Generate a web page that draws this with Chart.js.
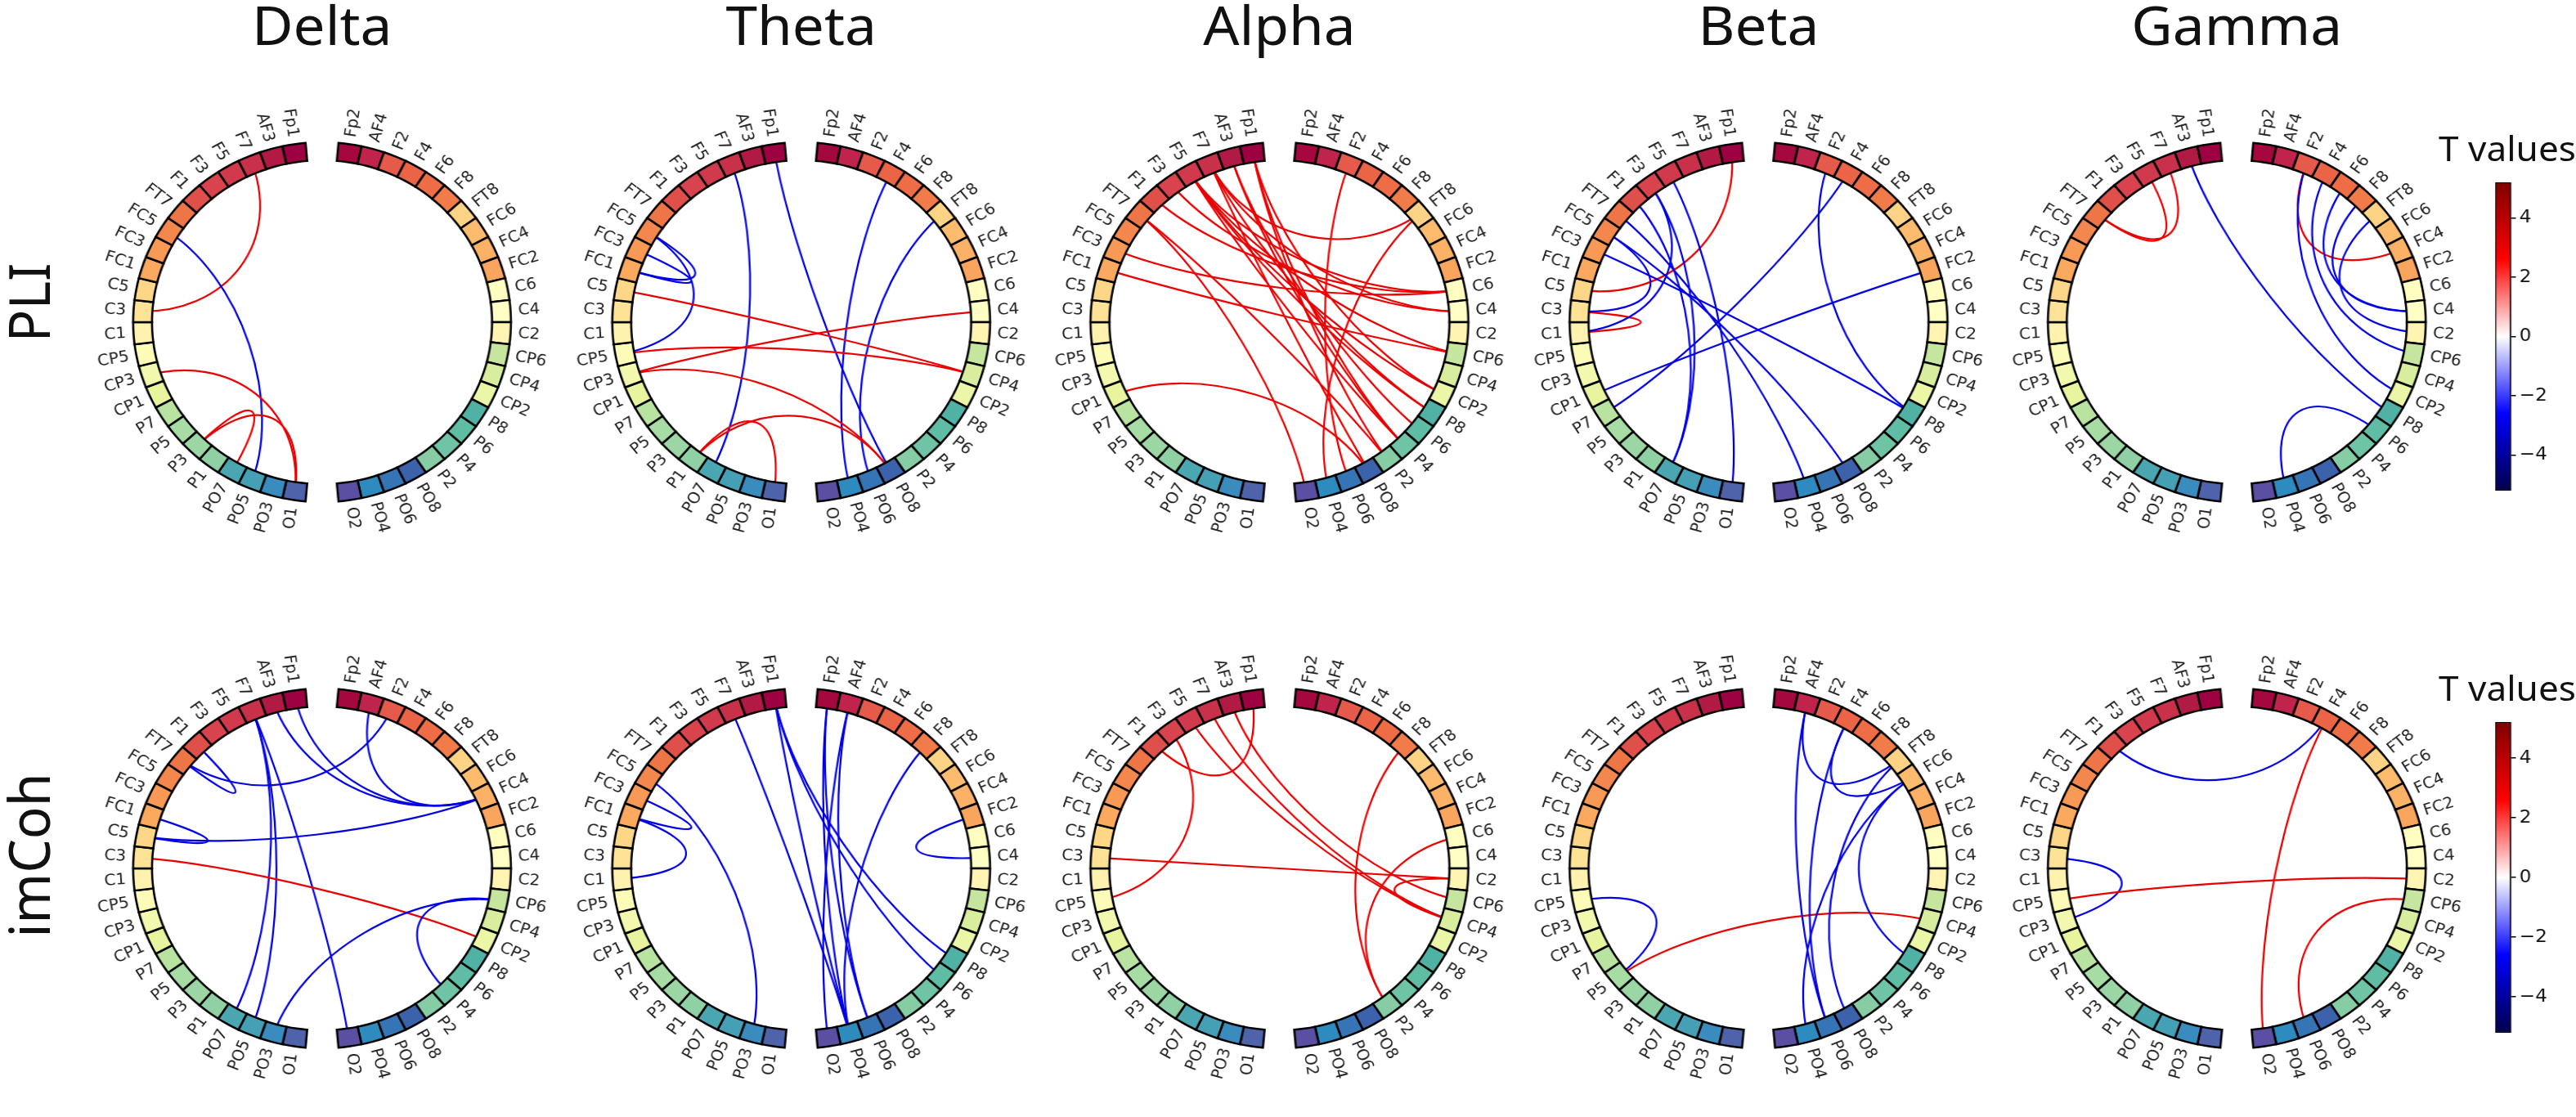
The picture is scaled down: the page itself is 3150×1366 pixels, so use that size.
<!DOCTYPE html>
<html>
<head>
<meta charset="utf-8">
<script src="https://cdn.jsdelivr.net/npm/chart.js@4.4.1/dist/chart.umd.min.js"></script>
<style>
html, body { margin: 0; padding: 0; background: #fff; }
body { width: 3150px; height: 1366px; overflow: hidden; position: relative; }
#stage { position: absolute; left: 0; top: 0; width: 3000px; height: 1366px; transform: scaleX(1.05); transform-origin: 0 0; }
.title { position: absolute; width: 300px; text-align: center; font-family: 'Noto Sans', sans-serif; font-size: 66px; line-height: 66px; color: #111; }
.rowlab { position: absolute; width: 300px; height: 70px; line-height: 70px; text-align: center; font-family: 'Noto Sans', sans-serif; font-size: 66px; color: #111; transform: rotate(-90deg); }
.cbt { position: absolute; width: 200px; text-align: center; font-family: 'Noto Sans', sans-serif; font-size: 42px; line-height: 42px; color: #111; }
canvas { position: absolute; }
</style>
</head>
<body>
<div id="stage"></div>
<script>
// ---- data ----
const bands = ['Delta', 'Theta', 'Alpha', 'Beta', 'Gamma'];
const measures = ['PLI', 'imCoh'];

const leftNodes = ['Fp1', 'AF3', 'F7', 'F5', 'F3', 'F1', 'FT7', 'FC5', 'FC3', 'FC1', 'C5', 'C3',
  'C1', 'CP5', 'CP3', 'CP1', 'P7', 'P5', 'P3', 'P1', 'PO7', 'PO5', 'PO3', 'O1'];
const rightNodes = ['Fp2', 'AF4', 'F2', 'F4', 'F6', 'F8', 'FT8', 'FC6', 'FC4', 'FC2', 'C6', 'C4',
  'C2', 'CP6', 'CP4', 'CP2', 'P8', 'P6', 'P4', 'P2', 'PO8', 'PO6', 'PO4', 'O2'];

const cbMin = -5.2, cbMax = 5.2;
const cbTicks = [-4, -2, 0, 2, 4];

// connections: [node, node, T value]
const pliDelta = [['F7', 'C3', 3.1], ['FC5', 'PO5', -3.1], ['CP3', 'O1', 3.1], ['P3', 'O1', 3.2],
  ['P3', 'PO7', 3.0]];
const pliTheta = [['F7', 'PO7', -3.1], ['Fp1', 'PO8', -3.1], ['F4', 'PO4', -3.0], ['FT8', 'PO6', -3.0],
  ['FC5', 'FC1', -3.0], ['FC3', 'FC1', -3.0], ['FC5', 'CP5', -3.1], ['C5', 'CP4', 3.1], ['CP5', 'CP4', 3.0],
  ['CP3', 'C4', 3.1], ['CP3', 'PO8', 3.0], ['P1', 'PO8', 3.1], ['P1', 'O1', 3.0]];
const pliAlpha = [['Fp1', 'P4', 3.1], ['Fp1', 'P2', 3.0], ['Fp1', 'CP2', 3.1], ['AF3', 'P4', 3.2],
  ['AF3', 'P6', 3.0], ['F7', 'FT8', 3.0], ['F7', 'P8', 3.1], ['F7', 'PO8', 3.0], ['F5', 'C6', 3.1],
  ['F5', 'CP2', 3.2], ['F5', 'P8', 3.0], ['F5', 'CP6', 3.1], ['F5', 'P4', 3.0], ['F3', 'C4', 3.0],
  ['FT7', 'P2', 3.0], ['FT7', 'O2', 3.1], ['FC3', 'C6', 3.0], ['FC1', 'CP6', 3.0], ['CP1', 'PO8', 3.0],
  ['F2', 'PO6', 3.0], ['FT8', 'PO4', 3.1], ['F7', 'C4', 3.0], ['F1', 'C6', 3.0]];
const pliBeta = [['Fp1', 'C5', 3.1], ['C3', 'C1', 3.0], ['C1', 'F3', -3.0], ['F5', 'O1', -3.1],
  ['F3', 'PO7', -3.0], ['F1', 'PO7', -3.0], ['FT7', 'PO4', -3.1], ['FC5', 'PO8', -3.0], ['FC3', 'P8', -3.0],
  ['P7', 'F4', -3.1], ['CP1', 'FC2', -3.0], ['F2', 'P8', -3.0], ['C3', 'FC5', -3.0]];
const pliGamma = [['F7', 'FT7', 3.1], ['F5', 'FT7', 3.0], ['F2', 'FC4', 3.0], ['AF3', 'P8', -3.1],
  ['PO4', 'P6', -3.0], ['F8', 'C4', -3.1], ['FT8', 'C2', -3.0], ['F4', 'CP6', -3.0], ['F2', 'CP2', -3.0],
  ['F6', 'C4', -3.0]];

const imDelta = [['Fp1', 'FC4', -3.1], ['AF3', 'FC4', -3.0], ['AF4', 'FC4', -3.0], ['F2', 'FT7', -3.0],
  ['F7', 'PO7', -3.1], ['F7', 'PO5', -3.0], ['F7', 'O2', -3.0], ['F1', 'FT7', -3.0], ['FC1', 'C5', -3.0],
  ['C5', 'FC4', -3.1], ['C3', 'CP2', 3.1], ['CP6', 'PO3', -3.0], ['CP6', 'P4', -3.0]];
const imTheta = [['F7', 'PO4', -3.1], ['Fp1', 'PO4', -3.1], ['Fp1', 'P6', -3.0], ['Fp1', 'P8', -3.0],
  ['Fp2', 'PO4', -3.1], ['Fp2', 'PO6', -3.0], ['AF4', 'O2', -3.0], ['AF4', 'PO6', -3.0], ['F8', 'PO4', -3.0],
  ['FC5', 'PO3', -3.0], ['FC3', 'FC1', -3.0], ['FC1', 'C1', -3.0], ['FC2', 'C4', -3.0]];
const imAlpha = [['Fp1', 'F1', 3.0], ['F3', 'CP5', 3.0], ['C3', 'C2', 3.1], ['F5', 'CP4', 3.1],
  ['F7', 'CP4', 3.0], ['AF3', 'CP6', 3.0], ['C2', 'CP4', 3.0], ['F8', 'P2', 3.0], ['C6', 'P2', 3.0]];
const imBeta = [['CP5', 'P5', -3.0], ['P5', 'CP4', 3.1], ['AF4', 'FT8', -3.0], ['AF4', 'PO6', -3.0],
  ['F4', 'PO6', -3.1], ['F4', 'FC6', -3.0], ['FT8', 'PO8', -3.0], ['FC6', 'PO4', -3.0], ['FC6', 'P8', -3.0]];
const imGamma = [['F1', 'F4', -3.0], ['F4', 'O2', 3.1], ['C3', 'CP3', -3.0], ['CP5', 'C2', 3.1],
  ['CP6', 'PO6', 3.0]];

const panels = [[pliDelta, pliTheta, pliAlpha, pliBeta, pliGamma],
                [imDelta, imTheta, imAlpha, imBeta, imGamma]];

// ---- styles ----
const leftPalette = ['#9e0142', '#b11a44', '#c9304a', '#d03a4c', '#d8434e', '#e0504b', '#ee7545', '#f4874d',
  '#f89a55', '#fba95e', '#fdd687', '#fee397', '#fff2ae', '#fcfcb8', '#f2f9ae', '#e8f59e', '#b9e3a0', '#a7dca4',
  '#9cd6a4', '#8fd0a4', '#4aa7b1', '#45a0b5', '#3a8bbe', '#4f63aa'];
const rightPalette = ['#a5073f', '#c0234b', '#e55a4a', '#ec6446', '#ef6d46', '#f27b4a', '#fdd486', '#fdbc6d',
  '#fcb266', '#f9a55d', '#fffec0', '#ffffc5', '#fff4b2', '#c6e69f', '#d8ee9e', '#ebf6a6', '#50b2a4', '#5fbda5',
  '#6fc4a5', '#86cca5', '#3c62ac', '#3575b6', '#2d8bbf', '#5a4fa2'];
const seismicStops = [[0, [0, 0, 76]], [0.25, [0, 0, 255]], [0.5, [255, 255, 255]], [0.75, [255, 0, 0]], [1, [128, 0, 0]]];

const colX = [375, 933, 1490, 2048, 2605];
const rowY = [394, 1062];

function seismic(t) {
  const s = Math.max(0, Math.min(1, (t - cbMin) / (cbMax - cbMin)));
  for (let i = 1; i < seismicStops.length; i++) {
    const [p1, c1] = seismicStops[i];
    const [p0, c0] = seismicStops[i - 1];
    if (s <= p1) {
      const f = (s - p0) / (p1 - p0);
      return 'rgb(' + c0.map((v, k) => Math.round(v + (c1[k] - v) * f)).join(',') + ')';
    }
  }
  return 'rgb(128,0,0)';
}

// ring: right half clockwise from the top, gap, left half from the bottom up, gap
const ringNames = [...rightNodes, '', ...leftNodes.slice().reverse(), ''];
const ringValues = ringNames.map(n => n ? 340 / 48 : 10);
const ringColors = [...rightPalette, 'rgba(0,0,0,0)', ...leftPalette.slice().reverse(), 'rgba(0,0,0,0)'];

const stage = document.getElementById('stage');

function addDiv(cls, text, left, top) {
  const d = document.createElement('div');
  d.className = cls;
  d.textContent = text;
  d.style.left = left + 'px';
  d.style.top = top + 'px';
  stage.appendChild(d);
}

function addCanvas(left, top, w, h) {
  const c = document.createElement('canvas');
  c.width = w; c.height = h;
  c.style.left = left + 'px'; c.style.top = top + 'px';
  c.style.width = w + 'px'; c.style.height = h + 'px';
  stage.appendChild(c);
  return c;
}

function circlePlugin(conns) {
  return {
    id: 'circle',
    beforeDatasetsDraw(chart) {
      const arcs = chart.getDatasetMeta(0).data;
      const ctx = chart.ctx;
      ctx.save();
      ctx.lineWidth = 2.2;
      conns.forEach(([a, b, t]) => {
        const p = arcs[ringNames.indexOf(a)], q = arcs[ringNames.indexOf(b)];
        const ta = (p.startAngle + p.endAngle) / 2, tb = (q.startAngle + q.endAngle) / 2;
        const R = p.outerRadius, x = p.x, y = p.y;
        ctx.strokeStyle = seismic(t);
        ctx.beginPath();
        ctx.moveTo(x + R * Math.cos(ta), y + R * Math.sin(ta));
        ctx.bezierCurveTo(x + R / 2 * Math.cos(ta), y + R / 2 * Math.sin(ta),
          x + R / 2 * Math.cos(tb), y + R / 2 * Math.sin(tb),
          x + R * Math.cos(tb), y + R * Math.sin(tb));
        ctx.stroke();
      });
      ctx.restore();
    },
    afterDatasetsDraw(chart) {
      const arcs = chart.getDatasetMeta(0).data;
      const ctx = chart.ctx;
      ctx.save();
      ctx.font = '19px "DejaVu Sans"';
      ctx.fillStyle = '#222';
      ctx.textBaseline = 'middle';
      ringNames.forEach((name, i) => {
        if (!name) return;
        const arc = arcs[i];
        const a = (arc.startAngle + arc.endAngle) / 2;
        const r = arc.outerRadius * 1.04;
        ctx.save();
        ctx.translate(arc.x + r * Math.cos(a), arc.y + r * Math.sin(a));
        if (i < 24) {
          ctx.rotate(a);
          ctx.textAlign = 'left';
        } else {
          ctx.rotate(a + Math.PI);
          ctx.textAlign = 'right';
        }
        ctx.fillText(name, 0, 0);
        ctx.restore();
      });
      ctx.restore();
    }
  };
}

bands.forEach((b, c) => addDiv('title', b, colX[c] - 150, -4));
addDiv('rowlab', measures[0], 32 - 150, 370 - 35);
addDiv('rowlab', measures[1], 32 - 150, 1046 - 35);

panels.forEach((row, r) => {
  row.forEach((conns, c) => {
    const cv = addCanvas(colX[c] - 278, rowY[r] - 310, 556, 620);
    new Chart(cv, {
      type: 'doughnut',
      data: {
        labels: ringNames,
        datasets: [{
          data: ringValues,
          backgroundColor: ringColors,
          borderColor: ringNames.map(n => n ? '#000' : 'rgba(0,0,0,0)'),
          borderWidth: ringNames.map(n => n ? 2.5 : 0),
          borderJoinStyle: 'miter'
        }]
      },
      options: {
        responsive: false,
        animation: false,
        events: [],
        rotation: 5,
        radius: 220,
        cutout: '90%',
        layout: { padding: 0 },
        plugins: { legend: { display: false }, tooltip: { enabled: false } }
      },
      plugins: [circlePlugin(conns)]
    });
  });
});

// colour bars
[[223, 377, 160], [883, 380, 820]].forEach(([top, h, titleTop]) => {
  addDiv('cbt', 'T values', 2920 - 100, titleTop);
  const cv = addCanvas(2906, top, 78, h);
  new Chart(cv, {
    type: 'bar',
    data: {
      labels: [''],
      datasets: [{
        data: [[cbMin, cbMax]],
        backgroundColor: (ctx) => {
          const area = ctx.chart.chartArea;
          if (!area) return '#fff';
          const g = ctx.chart.ctx.createLinearGradient(0, area.bottom, 0, area.top);
          seismicStops.forEach(([p, rgb]) => g.addColorStop(p, 'rgb(' + rgb.join(',') + ')'));
          return g;
        },
        borderColor: '#000',
        borderWidth: 1.5,
        borderSkipped: false,
        barPercentage: 1,
        categoryPercentage: 1
      }]
    },
    options: {
      responsive: false,
      animation: false,
      events: [],
      layout: { padding: 0 },
      plugins: { legend: { display: false }, tooltip: { enabled: false } },
      scales: {
        x: { display: false },
        y: {
          position: 'right',
          min: cbMin,
          max: cbMax,
          afterBuildTicks: axis => { axis.ticks = cbTicks.map(v => ({ value: v })); },
          afterFit: s => { s.width = 60; s.paddingTop = 0; s.paddingBottom = 0; },
          ticks: {
            font: { family: 'DejaVu Sans', size: 22 },
            color: '#111',
            padding: 4,
            callback: v => v < 0 ? '\u2212' + Math.abs(v) : String(v)
          },
          grid: { display: true, drawOnChartArea: false, drawTicks: true, tickLength: 6, color: '#000', lineWidth: 1.5 },
          border: { display: true, color: '#000', width: 1.5 }
        }
      }
    }
  });
});
</script>
</body>
</html>
